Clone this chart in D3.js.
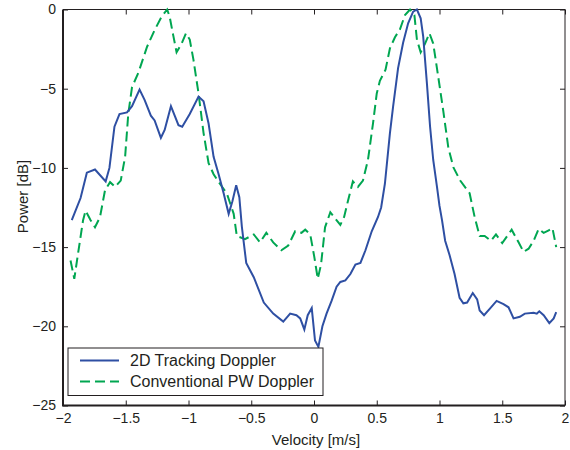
<!doctype html>
<html lang="en">
<head>
  <style>
    body { margin: 0; background: #fff; }
    svg text { font-family: "Liberation Sans", Arial, sans-serif; fill: #231f20; }
    .tick text { font-size: 14px; }
    .axis-label { font-size: 15px; }
    .legend text { font-size: 16px; }
  </style>
  <script src="https://d3js.org/d3.v7.min.js"></script>
</head>
<body>
<svg width="570" height="450"></svg>
<script>
  // 2D tracking Doppler (solid blue)
  const trackV = [-1.93,-1.86,-1.81,-1.745,-1.66,-1.63,-1.59,-1.55,-1.49,-1.45,-1.39,-1.35,-1.30,-1.27,-1.22,-1.19,-1.14,-1.11,-1.08,-1.05,-0.99,-0.92,-0.88,-0.84,-0.80,-0.76,-0.72,-0.68,-0.65,-0.62,-0.595,-0.575,-0.54,-0.48,-0.40,-0.325,-0.245,-0.19,-0.14,-0.11,-0.077,-0.05,-0.018,0.008,0.035,0.067,0.10,0.14,0.18,0.21,0.25,0.29,0.33,0.37,0.41,0.46,0.51,0.535,0.565,0.605,0.63,0.67,0.71,0.75,0.79,0.82,0.85,0.87,0.90,0.925,0.95,0.98,1.00,1.02,1.045,1.08,1.12,1.16,1.19,1.22,1.265,1.30,1.32,1.355,1.40,1.455,1.51,1.55,1.59,1.64,1.68,1.75,1.775,1.795,1.83,1.875,1.91,1.93];
  const trackP = [-13.3,-11.9,-10.3,-10.1,-10.85,-10.0,-7.4,-6.6,-6.5,-6.1,-5.05,-5.7,-6.7,-7.0,-8.1,-7.6,-6.1,-6.7,-7.3,-7.4,-6.6,-5.5,-5.8,-7.2,-9.3,-10.4,-11.6,-12.9,-12.1,-11.1,-11.85,-13.7,-16.0,-16.9,-18.5,-19.2,-19.7,-19.2,-19.3,-19.5,-20.2,-19.3,-18.85,-20.9,-21.3,-20.0,-19.2,-18.4,-17.5,-17.2,-17.1,-16.7,-16.1,-16.0,-15.2,-14.0,-13.1,-12.5,-11.0,-7.8,-6.15,-3.7,-2.1,-0.87,-0.14,0,-0.56,-1.7,-4.7,-7.4,-9.5,-11.2,-12.4,-13.3,-14.6,-15.5,-16.7,-18.2,-18.55,-18.5,-17.9,-18.3,-19.0,-19.3,-18.9,-18.4,-18.6,-18.8,-19.5,-19.4,-19.2,-19.15,-19.2,-19.05,-19.3,-19.8,-19.5,-19.1];

  // Conventional PW Doppler (dashed green)
  const pwV = [-1.94,-1.91,-1.88,-1.84,-1.82,-1.78,-1.745,-1.705,-1.665,-1.625,-1.585,-1.54,-1.505,-1.48,-1.45,-1.40,-1.33,-1.27,-1.215,-1.17,-1.15,-1.12,-1.095,-1.055,-1.02,-0.99,-0.96,-0.92,-0.88,-0.84,-0.80,-0.75,-0.695,-0.64,-0.615,-0.55,-0.48,-0.43,-0.38,-0.325,-0.26,-0.205,-0.15,-0.10,-0.07,-0.03,0.002,0.03,0.056,0.088,0.13,0.17,0.21,0.24,0.27,0.31,0.35,0.39,0.43,0.47,0.50,0.525,0.57,0.605,0.645,0.685,0.725,0.765,0.80,0.82,0.85,0.885,0.92,0.95,0.99,1.03,1.07,1.11,1.165,1.24,1.28,1.32,1.36,1.41,1.45,1.50,1.575,1.63,1.67,1.71,1.75,1.79,1.83,1.87,1.90,1.93];
  const pwP = [-15.85,-17.0,-15.4,-13.3,-12.7,-13.3,-13.75,-13.1,-11.4,-10.9,-11.2,-10.8,-9.3,-6.6,-4.9,-4.0,-2.35,-1.3,-0.46,0,-0.46,-1.7,-2.7,-2.15,-1.5,-1.9,-3.2,-5.3,-7.8,-9.7,-10.4,-11.0,-11.6,-12.9,-14.3,-14.5,-14.2,-14.7,-14.1,-14.7,-15.2,-14.9,-14.0,-14.1,-13.9,-14.2,-15.6,-17.0,-16.1,-13.75,-12.8,-13.2,-13.6,-13.1,-12.1,-10.85,-11.2,-10.8,-9.5,-7.2,-5.3,-4.5,-3.8,-2.45,-1.75,-1.25,-0.35,0,-0.35,-1.9,-2.7,-2.15,-1.5,-2.15,-4.25,-6.4,-8.7,-9.95,-10.8,-11.6,-13.1,-14.3,-14.3,-14.6,-14.2,-14.75,-13.9,-14.7,-15.3,-15.1,-14.6,-13.85,-14.1,-13.95,-13.8,-15.0];

  const xTicks = [-2, -1.5, -1, -0.5, 0, 0.5, 1, 1.5, 2];
  const yTicks = [0, -5, -10, -15, -20, -25];
  const seriesNames = ["2D Tracking Doppler", "Conventional PW Doppler"];

  const margin = { top: 9.5, right: 5, bottom: 44.5, left: 63 };
  const width = 570 - margin.left - margin.right;
  const height = 450 - margin.top - margin.bottom;

  const svg = d3.select("svg")
    .append("g")
    .attr("transform", `translate(${margin.left}, ${margin.top})`);

  const x = d3.scaleLinear().domain([-2, 2]).range([0, width]);
  const y = d3.scaleLinear().domain([-25, 0]).range([height, 0]);

  const fmt = d => d < 0 ? "\u2212" + Math.abs(d) : String(d);

  svg.append("g")
    .attr("transform", `translate(0, ${height})`)
    .call(d3.axisBottom(x).tickValues(xTicks).tickFormat(fmt).tickSizeInner(-5).tickSizeOuter(0).tickPadding(8))
    .call(g => g.select(".domain").remove());

  svg.append("g")
    .call(d3.axisTop(x).tickValues(xTicks).tickFormat("").tickSizeInner(-5).tickSizeOuter(0))
    .call(g => g.select(".domain").remove());

  svg.append("g")
    .call(d3.axisLeft(y).tickValues(yTicks).tickFormat(fmt).tickSizeInner(-5).tickSizeOuter(0).tickPadding(7))
    .call(g => g.select(".domain").remove());

  svg.append("g")
    .attr("transform", `translate(${width}, 0)`)
    .call(d3.axisRight(y).tickValues(yTicks).tickFormat("").tickSizeInner(-5).tickSizeOuter(0))
    .call(g => g.select(".domain").remove());

  svg.selectAll(".tick line").attr("stroke", "#231f20");

  // box
  svg.append("path")
    .attr("d", `M0,0H${width}V${height}`)
    .attr("fill", "none").attr("stroke", "#231f20").attr("stroke-width", 1);
  svg.append("path")
    .attr("d", `M0,0V${height}H${width}`)
    .attr("fill", "none").attr("stroke", "#231f20").attr("stroke-width", 2);

  const line = d3.line().x(d => x(d[0])).y(d => y(d[1]));

  svg.append("path")
    .datum(d3.zip(pwV, pwP))
    .attr("fill", "none")
    .attr("stroke", "#00a651")
    .attr("stroke-width", 2)
    .attr("stroke-dasharray", "10,5")
    .attr("d", line);

  svg.append("path")
    .datum(d3.zip(trackV, trackP))
    .attr("fill", "none")
    .attr("stroke", "#2e4fa3")
    .attr("stroke-width", 2)
    .attr("d", line);

  svg.append("text")
    .attr("class", "axis-label")
    .attr("x", width / 2 + 2)
    .attr("y", height + 39)
    .attr("text-anchor", "middle")
    .text("Velocity [m/s]");

  svg.append("text")
    .attr("class", "axis-label")
    .attr("transform", "rotate(-90)")
    .attr("x", -height / 2 + 11)
    .attr("y", -35)
    .attr("text-anchor", "middle")
    .text("Power [dB]");

  // legend
  const legend = svg.append("g").attr("class", "legend").attr("transform", "translate(5, 338.5)");
  legend.append("rect")
    .attr("width", 255).attr("height", 47.5)
    .attr("fill", "#fff").attr("stroke", "#231f20").attr("stroke-width", 1);
  const styles = [{ c: "#2e4fa3", dash: null }, { c: "#00a651", dash: "10,5" }];
  seriesNames.forEach((name, i) => {
    const yy = 12.5 + i * 21;
    legend.append("line")
      .attr("x1", 12).attr("x2", 51).attr("y1", yy).attr("y2", yy)
      .attr("stroke", styles[i].c).attr("stroke-width", 2)
      .attr("stroke-dasharray", styles[i].dash);
    legend.append("text")
      .attr("x", 62).attr("y", yy + 5.5)
      .text(name);
  });
</script>
</body>
</html>
